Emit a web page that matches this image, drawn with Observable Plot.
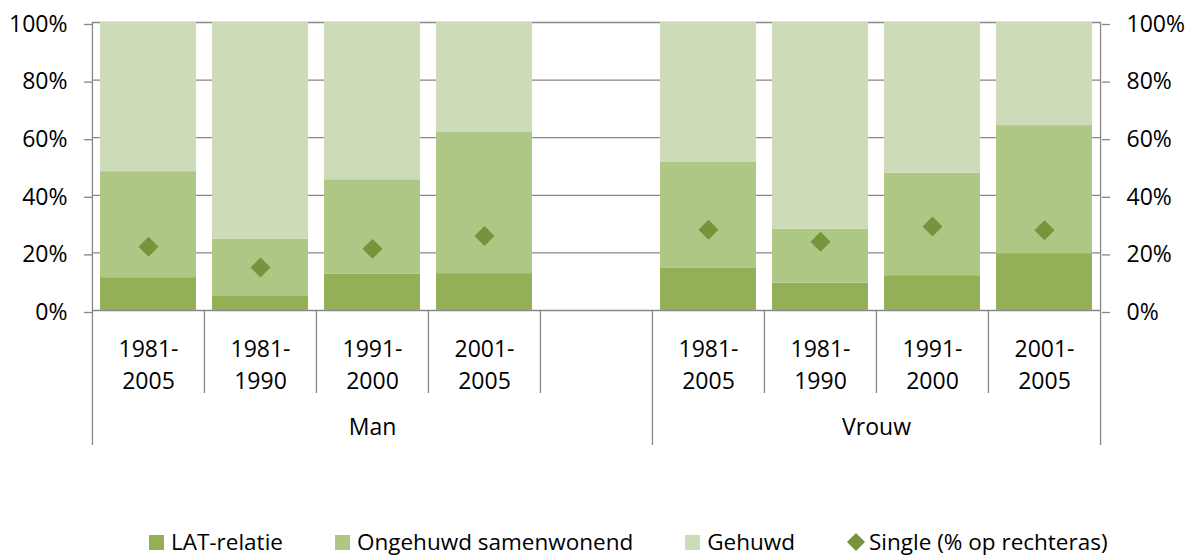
<!DOCTYPE html>
<html><head><meta charset="utf-8">
<script src="https://cdn.jsdelivr.net/npm/d3@7"></script>
<script src="https://cdn.jsdelivr.net/npm/@observablehq/plot@0.6"></script>
<style>
body{margin:0;background:#fff;font-family:"Open Sans",sans-serif;}
#wrap{position:relative;width:1188px;height:558px;overflow:hidden}
#legend{position:absolute;left:149px;top:531px;height:22px;display:flex;justify-content:flex-start;align-items:center;gap:52px;font-size:22.5px;line-height:22px;color:#000;white-space:nowrap}
.item{display:flex;align-items:center;height:22px}
.sw{width:15px;height:15px;margin-right:7px}
</style></head><body><div id="wrap"><div id="chart"></div><div id="legend"></div></div>
<script>
// ---- data ----
const groups = ["Man", "Man", "Man", "Man", "Vrouw", "Vrouw", "Vrouw", "Vrouw"];
const periods = ["1981-2005", "1981-1990", "1991-2000", "2001-2005", "1981-2005", "1981-1990", "1991-2000", "2001-2005"];
const latRelatie = [11.4, 5.1, 12.7, 12.8, 14.8, 9.5, 12.1, 19.7];
const ongehuwdSamenwonend = [36.8, 19.6, 32.7, 49.0, 36.8, 18.8, 35.5, 44.5];
const gehuwd = [51.8, 75.3, 54.6, 38.2, 48.4, 71.7, 52.4, 35.8];
const single = [22.1, 14.9, 21.4, 25.9, 28.0, 23.9, 29.2, 27.9];
const seriesNames = ["LAT-relatie", "Ongehuwd samenwonend", "Gehuwd"];
const seriesColors = ["#93B056", "#AEC785", "#CEDBB8"];
const singleName = "Single (% op rechteras)";
const singleColor = "#77933C";
const yTicks = [0, 0.2, 0.4, 0.6, 0.8, 1];

// ---- build ----
const keys = groups.map((g, i) => g + "|" + periods[i]);
const domain = [...keys.slice(0, 4), "Man|", ...keys.slice(4)];
const stackData = [];
keys.forEach((k, i) => {
  [latRelatie, ongehuwdSamenwonend, gehuwd].forEach((arr, s) => {
    stackData.push({key: k, series: seriesNames[s], value: arr[i] / 100});
  });
});
const singleData = keys.map((k, i) => ({key: k, value: single[i] / 100}));
const labelData = keys.map((k, i) => ({key: k, label: periods[i].replace("-", "-\n")}));
const groupLabels = [
  {key: "Man|1991-2000", label: "Man", shift: 0},
  {key: "Vrouw|1981-1990", label: "Vrouw", shift: 0.5}
];

const W = 1188, H = 520, ML = 92, MR = 87, MT = 22, MB = 210;
const step = (W - ML - MR) / domain.length;
const gray = "#878787";

const shortSeps = ["Man|1981-1990", "Man|1991-2000", "Man|2001-2005", "Man|", "Vrouw|1981-1990", "Vrouw|1991-2000", "Vrouw|2001-2005"];
const longSeps = ["Man|1981-2005", "Vrouw|1981-2005"];

const chart = Plot.plot({
  width: W, height: H,
  marginLeft: ML, marginRight: MR, marginTop: MT, marginBottom: MB,
  style: {fontFamily: "'Open Sans', sans-serif", fontSize: "23px", color: "#000", background: "#fff"},
  x: {type: "band", domain, paddingInner: 0.14, paddingOuter: 0.07, axis: null},
  y: {domain: [0, 1], axis: null},
  color: {domain: seriesNames, range: seriesColors},
  marks: [
    Plot.gridY(yTicks, {stroke: gray, strokeOpacity: 1, strokeWidth: 1.3}),
    Plot.axisY({anchor: "left", ticks: yTicks, tickSize: 8, tickPadding: 17, stroke: gray, strokeWidth: 1.3, tickFormat: d3.format(".0%"), label: null, dy: 2}),
    Plot.axisY({anchor: "right", ticks: yTicks, tickSize: 8, tickPadding: 17, stroke: gray, strokeWidth: 1.3, tickFormat: d3.format(".0%"), label: null, dy: 2}),
    Plot.barY(stackData, {x: "key", y: "value", fill: "series"}),
    Plot.ruleX([domain[0]], {dx: -step / 2, stroke: gray, strokeWidth: 1.3}),
    Plot.ruleX([domain[domain.length - 1]], {dx: step / 2, stroke: gray, strokeWidth: 1.3}),
    Plot.axisX({ticks: shortSeps, tickSize: 83, dx: -step / 2, stroke: gray, strokeWidth: 1.3, tickFormat: () => "", label: null}),
    Plot.axisX({ticks: longSeps, tickSize: 135, dx: -step / 2, stroke: gray, strokeWidth: 1.3, tickFormat: () => "", label: null}),
    Plot.axisX({ticks: [domain[domain.length - 1]], tickSize: 135, dx: step / 2, stroke: gray, strokeWidth: 1.3, tickFormat: () => "", label: null}),
    Plot.text(labelData, {x: "key", text: "label", frameAnchor: "bottom", lineAnchor: "top", dy: 24, lineHeight: 1.39, fill: "#000"}),
    Plot.text(groupLabels.filter(d => d.shift === 0), {x: "key", text: "label", frameAnchor: "bottom", lineAnchor: "top", dy: 108, fill: "#000"}),
    Plot.text(groupLabels.filter(d => d.shift !== 0), {x: "key", text: "label", frameAnchor: "bottom", lineAnchor: "top", dy: 108, dx: step / 2, fill: "#000"}),
    Plot.dot(singleData, {x: "key", y: "value", symbol: "diamond2", r: 9, fill: singleColor, stroke: "none"})
  ]
});
document.getElementById("chart").appendChild(chart);

// ---- legend ----
const legend = document.getElementById("legend");
seriesNames.forEach((name, i) => {
  const it = document.createElement("div");
  it.className = "item";
  it.innerHTML = `<span class="sw" style="background:${seriesColors[i]}"></span><span>${name}</span>`;
  legend.appendChild(it);
});
const it = document.createElement("div");
it.className = "item";
it.innerHTML = `<svg width="18" height="18" style="margin-right:4px"><path d="M9 0L18 9L9 18L0 9Z" fill="${singleColor}"/></svg><span>${singleName}</span>`;
legend.appendChild(it);
</script>
</body></html>
